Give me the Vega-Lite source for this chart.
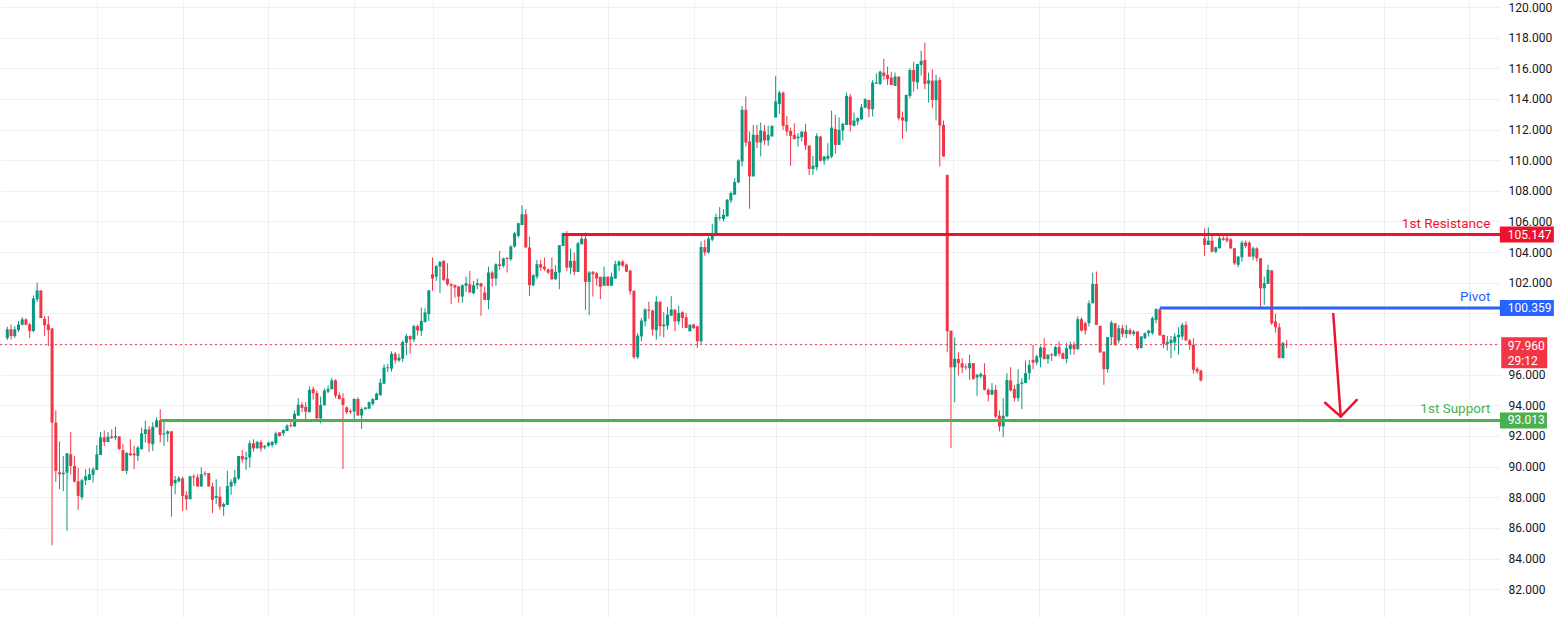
{
  "$schema": "https://vega.github.io/schema/vega-lite/v6.json",
  "width": 1500,
  "height": 618,
  "autosize": "none",
  "padding": {"left": 0, "top": 0, "right": 60, "bottom": 0},
  "background": "#ffffff",
  "config": {"view": {"stroke": null}, "font": "Roboto", "text": {"font": "Roboto"}},
  "datasets": {
    "candles": [
      {"t":1,"o":98.39,"h":99.13,"l":98.26,"c":98.96},{"t":2,"o":98.96,"h":99.28,"l":98.3,"c":98.52},{"t":3,"o":98.52,"h":99.17,"l":98.39,"c":98.96},{"t":4,"o":98.91,"h":99.5,"l":98.78,"c":99.28},{"t":5,"o":99.26,"h":99.76,"l":99.22,"c":99.61},{"t":6,"o":99.61,"h":99.67,"l":99.22,"c":99.26},{"t":7,"o":99.28,"h":99.39,"l":98.39,"c":98.85},{"t":8,"o":98.85,"h":101.17,"l":98.78,"c":100.98},{"t":9,"o":100.91,"h":102.0,"l":100.74,"c":101.5},{"t":10,"o":101.5,"h":101.5,"l":99.7,"c":99.7},
      {"t":11,"o":99.65,"h":99.83,"l":98.52,"c":99.22},{"t":12,"o":99.28,"h":99.83,"l":97.87,"c":98.91},{"t":13,"o":99.02,"h":99.02,"l":84.87,"c":92.87},{"t":14,"o":92.87,"h":93.67,"l":89.0,"c":89.72},{"t":15,"o":89.63,"h":91.65,"l":88.52,"c":89.5},{"t":16,"o":89.5,"h":90.7,"l":88.4,"c":89.6},{"t":17,"o":89.6,"h":90.87,"l":85.8,"c":90.87},{"t":18,"o":90.8,"h":92.26,"l":89.5,"c":90.04},{"t":19,"o":90.04,"h":90.7,"l":88.96,"c":89.02},{"t":20,"o":89.04,"h":89.91,"l":87.17,"c":88.09},
      {"t":21,"o":88.0,"h":89.2,"l":87.83,"c":89.11},{"t":22,"o":89.09,"h":89.83,"l":88.8,"c":89.37},{"t":23,"o":89.13,"h":89.91,"l":89.13,"c":89.5},{"t":24,"o":89.46,"h":89.96,"l":88.96,"c":89.83},{"t":25,"o":89.78,"h":91.4,"l":89.78,"c":90.8},{"t":26,"o":90.76,"h":92.26,"l":90.76,"c":91.91},{"t":27,"o":91.91,"h":92.35,"l":91.35,"c":91.61},{"t":28,"o":91.61,"h":92.26,"l":91.61,"c":91.96},{"t":29,"o":91.96,"h":92.43,"l":91.8,"c":91.87},{"t":30,"o":91.9,"h":92.6,"l":91.74,"c":92.0},
      {"t":31,"o":91.96,"h":92.0,"l":91.13,"c":91.13},{"t":32,"o":91.07,"h":91.46,"l":89.72,"c":89.72},{"t":33,"o":89.72,"h":90.91,"l":89.5,"c":90.91},{"t":34,"o":90.87,"h":91.78,"l":90.7,"c":90.74},{"t":35,"o":90.85,"h":91.35,"l":89.83,"c":90.74},{"t":36,"o":90.7,"h":91.35,"l":90.37,"c":91.24},{"t":37,"o":91.13,"h":92.54,"l":91.13,"c":92.17},{"t":38,"o":92.13,"h":93.0,"l":91.57,"c":92.43},{"t":39,"o":92.43,"h":92.65,"l":90.96,"c":91.52},{"t":40,"o":91.46,"h":92.9,"l":91.02,"c":92.6},
      {"t":41,"o":92.57,"h":93.2,"l":92.57,"c":93.02},{"t":42,"o":93.02,"h":93.74,"l":91.57,"c":92.07},{"t":43,"o":92.1,"h":93.02,"l":91.35,"c":92.17},{"t":44,"o":92.13,"h":92.37,"l":91.61,"c":92.3},{"t":45,"o":92.3,"h":92.3,"l":86.72,"c":88.74},{"t":46,"o":88.91,"h":89.39,"l":88.2,"c":89.13},{"t":47,"o":89.04,"h":89.39,"l":88.96,"c":89.26},{"t":48,"o":89.22,"h":89.35,"l":87.1,"c":88.09},{"t":49,"o":88.13,"h":88.39,"l":87.17,"c":87.87},{"t":50,"o":87.87,"h":89.37,"l":87.87,"c":89.37},
      {"t":51,"o":89.37,"h":89.5,"l":88.74,"c":89.3},{"t":52,"o":89.3,"h":89.5,"l":88.7,"c":88.7},{"t":53,"o":88.7,"h":89.96,"l":88.7,"c":89.5},{"t":54,"o":89.57,"h":89.7,"l":89.37,"c":89.5},{"t":55,"o":89.57,"h":89.57,"l":88.7,"c":88.7},{"t":56,"o":88.7,"h":88.96,"l":86.96,"c":87.83},{"t":57,"o":87.96,"h":89.17,"l":87.54,"c":88.09},{"t":58,"o":88.04,"h":88.69,"l":87.17,"c":87.38},{"t":59,"o":87.38,"h":87.65,"l":86.78,"c":87.56},{"t":60,"o":87.5,"h":89.73,"l":87.5,"c":88.73},
      {"t":61,"o":88.69,"h":89.17,"l":88.15,"c":89.0},{"t":62,"o":88.91,"h":89.78,"l":88.73,"c":89.3},{"t":63,"o":89.23,"h":90.69,"l":89.12,"c":90.69},{"t":64,"o":90.69,"h":91.08,"l":90.26,"c":90.47},{"t":65,"o":90.47,"h":90.97,"l":89.78,"c":90.6},{"t":66,"o":90.6,"h":91.69,"l":89.95,"c":91.52},{"t":67,"o":91.52,"h":91.78,"l":90.97,"c":91.19},{"t":68,"o":91.19,"h":91.69,"l":91.19,"c":91.6},{"t":69,"o":91.6,"h":91.73,"l":90.97,"c":91.19},{"t":70,"o":91.25,"h":91.41,"l":91.13,"c":91.35},
      {"t":71,"o":91.35,"h":91.63,"l":91.3,"c":91.56},{"t":72,"o":91.41,"h":91.63,"l":91.26,"c":91.63},{"t":73,"o":91.52,"h":92.28,"l":91.41,"c":92.17},{"t":74,"o":92.24,"h":92.24,"l":91.95,"c":92.0},{"t":75,"o":92.17,"h":92.43,"l":92.0,"c":92.39},{"t":76,"o":92.32,"h":92.76,"l":92.32,"c":92.67},{"t":77,"o":92.72,"h":92.9,"l":92.55,"c":92.66},{"t":78,"o":92.61,"h":93.65,"l":92.61,"c":93.44},{"t":79,"o":93.33,"h":94.48,"l":93.33,"c":94.04},{"t":80,"o":94.04,"h":94.2,"l":93.55,"c":93.83},
      {"t":81,"o":93.9,"h":94.2,"l":93.07,"c":93.59},{"t":82,"o":93.55,"h":95.22,"l":93.55,"c":95.0},{"t":83,"o":95.07,"h":95.22,"l":94.37,"c":94.78},{"t":84,"o":94.8,"h":94.96,"l":93.11,"c":93.15},{"t":85,"o":93.15,"h":94.57,"l":92.83,"c":94.02},{"t":86,"o":94.0,"h":95.11,"l":94.0,"c":94.96},{"t":87,"o":94.89,"h":95.3,"l":94.8,"c":95.07},{"t":88,"o":95.05,"h":95.78,"l":95.05,"c":95.63},{"t":89,"o":95.63,"h":95.7,"l":94.46,"c":94.63},{"t":90,"o":94.67,"h":94.85,"l":94.37,"c":94.41},
      {"t":91,"o":94.46,"h":94.8,"l":89.85,"c":94.02},{"t":92,"o":93.87,"h":93.92,"l":93.44,"c":93.55},{"t":93,"o":93.62,"h":93.76,"l":93.44,"c":93.55},{"t":94,"o":93.59,"h":94.46,"l":93.11,"c":94.41},{"t":95,"o":94.41,"h":94.52,"l":93.33,"c":93.33},{"t":96,"o":93.33,"h":93.87,"l":92.46,"c":93.76},{"t":97,"o":93.74,"h":93.89,"l":93.74,"c":93.85},{"t":98,"o":93.78,"h":94.26,"l":93.78,"c":94.2},{"t":99,"o":94.09,"h":94.46,"l":93.98,"c":94.41},{"t":100,"o":94.35,"h":94.83,"l":94.35,"c":94.76},
      {"t":101,"o":94.65,"h":95.74,"l":94.65,"c":95.48},{"t":102,"o":95.41,"h":96.67,"l":95.41,"c":96.46},{"t":103,"o":96.42,"h":96.7,"l":96.17,"c":96.48},{"t":104,"o":96.39,"h":97.52,"l":96.2,"c":97.37},{"t":105,"o":97.37,"h":97.48,"l":96.72,"c":96.93},{"t":106,"o":96.93,"h":97.37,"l":96.83,"c":97.11},{"t":107,"o":97.04,"h":98.24,"l":96.83,"c":98.13},{"t":108,"o":98.09,"h":98.67,"l":97.26,"c":98.52},{"t":109,"o":98.52,"h":98.57,"l":97.37,"c":98.3},{"t":110,"o":98.3,"h":99.26,"l":98.13,"c":99.17},
      {"t":111,"o":99.17,"h":99.26,"l":98.57,"c":98.89},{"t":112,"o":98.86,"h":100.38,"l":98.53,"c":99.51},{"t":113,"o":99.45,"h":100.34,"l":99.4,"c":100.06},{"t":114,"o":99.95,"h":101.51,"l":99.51,"c":101.51},{"t":115,"o":102.56,"h":103.64,"l":101.47,"c":102.27},{"t":116,"o":102.4,"h":103.14,"l":102.12,"c":103.1},{"t":117,"o":103.06,"h":103.43,"l":101.32,"c":103.36},{"t":118,"o":103.43,"h":103.49,"l":102.12,"c":102.19},{"t":119,"o":102.27,"h":103.27,"l":101.8,"c":101.9},{"t":120,"o":101.9,"h":102.0,"l":100.6,"c":101.8},
      {"t":121,"o":101.84,"h":101.9,"l":101.03,"c":101.69},{"t":122,"o":101.75,"h":101.8,"l":100.7,"c":101.1},{"t":123,"o":101.1,"h":101.9,"l":100.7,"c":101.84},{"t":124,"o":101.8,"h":102.4,"l":101.4,"c":101.97},{"t":125,"o":101.9,"h":102.77,"l":101.36,"c":101.36},{"t":126,"o":101.32,"h":102.12,"l":101.25,"c":101.84},{"t":127,"o":101.84,"h":102.27,"l":101.58,"c":101.97},{"t":128,"o":101.97,"h":102.0,"l":99.84,"c":101.75},{"t":129,"o":101.36,"h":101.75,"l":100.88,"c":100.88},{"t":130,"o":100.88,"h":103.06,"l":100.27,"c":102.67},
      {"t":131,"o":102.67,"h":102.77,"l":101.75,"c":102.27},{"t":132,"o":102.27,"h":103.27,"l":101.8,"c":103.21},{"t":133,"o":103.21,"h":104.08,"l":102.84,"c":103.1},{"t":134,"o":103.1,"h":103.64,"l":102.99,"c":103.58},{"t":135,"o":103.64,"h":103.64,"l":102.67,"c":103.56},{"t":136,"o":103.53,"h":104.45,"l":103.43,"c":104.36},{"t":137,"o":104.36,"h":105.32,"l":104.3,"c":105.23},{"t":138,"o":105.06,"h":105.93,"l":104.95,"c":105.88},{"t":139,"o":105.77,"h":107.06,"l":105.77,"c":106.47},{"t":140,"o":106.47,"h":106.8,"l":104.3,"c":104.3},
      {"t":141,"o":104.3,"h":105.01,"l":101.14,"c":101.84},{"t":142,"o":101.84,"h":102.56,"l":101.75,"c":102.49},{"t":143,"o":102.4,"h":103.49,"l":102.23,"c":103.21},{"t":144,"o":103.21,"h":103.49,"l":102.77,"c":102.99},{"t":145,"o":103.06,"h":103.64,"l":102.77,"c":102.88},{"t":146,"o":102.88,"h":102.93,"l":102.56,"c":102.67},{"t":147,"o":102.88,"h":103.64,"l":102.19,"c":102.23},{"t":148,"o":102.23,"h":103.14,"l":102.19,"c":102.71},{"t":149,"o":102.67,"h":104.45,"l":101.58,"c":104.45},{"t":150,"o":104.4,"h":105.27,"l":104.4,"c":105.23},
      {"t":151,"o":105.23,"h":105.38,"l":102.77,"c":102.99},{"t":152,"o":102.99,"h":104.23,"l":102.56,"c":103.43},{"t":153,"o":103.43,"h":103.97,"l":102.49,"c":102.71},{"t":154,"o":102.71,"h":104.67,"l":102.71,"c":104.58},{"t":155,"o":104.51,"h":105.06,"l":104.51,"c":104.88},{"t":156,"o":104.88,"h":105.27,"l":100.23,"c":102.06},{"t":157,"o":102.06,"h":102.77,"l":99.88,"c":102.67},{"t":158,"o":102.71,"h":102.77,"l":101.1,"c":102.56},{"t":159,"o":102.62,"h":102.71,"l":101.8,"c":102.27},{"t":160,"o":102.38,"h":102.4,"l":100.93,"c":101.73},
      {"t":161,"o":101.8,"h":103.06,"l":101.8,"c":102.4},{"t":162,"o":102.4,"h":102.4,"l":101.8,"c":101.8},{"t":163,"o":101.8,"h":102.67,"l":101.8,"c":102.4},{"t":164,"o":102.27,"h":103.43,"l":102.27,"c":103.21},{"t":165,"o":103.12,"h":103.46,"l":102.75,"c":103.38},{"t":166,"o":103.38,"h":103.5,"l":103.03,"c":103.12},{"t":167,"o":103.18,"h":103.25,"l":102.72,"c":102.72},{"t":168,"o":102.79,"h":102.85,"l":101.22,"c":101.44},{"t":169,"o":101.48,"h":101.48,"l":97.03,"c":97.14},{"t":170,"o":97.14,"h":98.72,"l":97.03,"c":98.55},
      {"t":171,"o":98.5,"h":99.7,"l":98.18,"c":99.53},{"t":172,"o":99.48,"h":100.35,"l":99.16,"c":100.25},{"t":173,"o":100.25,"h":100.77,"l":99.64,"c":100.18},{"t":174,"o":100.18,"h":100.25,"l":98.55,"c":98.94},{"t":175,"o":98.9,"h":101.12,"l":98.29,"c":100.77},{"t":176,"o":100.77,"h":100.77,"l":98.5,"c":99.16},{"t":177,"o":99.16,"h":100.07,"l":98.44,"c":99.27},{"t":178,"o":99.2,"h":100.42,"l":98.94,"c":99.92},{"t":179,"o":99.85,"h":101.12,"l":99.85,"c":100.25},{"t":180,"o":100.25,"h":100.25,"l":98.83,"c":99.48},
      {"t":181,"o":99.48,"h":100.5,"l":99.27,"c":100.03},{"t":182,"o":100.07,"h":100.14,"l":99.05,"c":99.7},{"t":183,"o":99.75,"h":100.03,"l":99.05,"c":99.05},{"t":184,"o":98.83,"h":99.27,"l":98.83,"c":99.27},{"t":185,"o":99.27,"h":99.33,"l":98.98,"c":99.05},{"t":186,"o":99.16,"h":99.16,"l":97.75,"c":98.18},{"t":187,"o":98.18,"h":104.7,"l":97.96,"c":104.33},{"t":188,"o":104.33,"h":104.81,"l":103.77,"c":103.98},{"t":189,"o":103.98,"h":105.03,"l":103.9,"c":104.88},{"t":190,"o":104.81,"h":105.85,"l":104.7,"c":105.2},
      {"t":191,"o":105.14,"h":106.51,"l":105.03,"c":106.29},{"t":192,"o":106.22,"h":106.94,"l":106.07,"c":106.29},{"t":193,"o":106.16,"h":106.81,"l":106.0,"c":106.44},{"t":194,"o":106.33,"h":107.46,"l":106.33,"c":107.42},{"t":195,"o":107.37,"h":107.96,"l":107.2,"c":107.85},{"t":196,"o":107.75,"h":108.83,"l":107.75,"c":108.57},{"t":197,"o":108.55,"h":110.07,"l":108.5,"c":109.98},{"t":198,"o":109.92,"h":113.55,"l":109.59,"c":113.29},{"t":199,"o":113.29,"h":114.16,"l":110.9,"c":111.16},{"t":200,"o":111.22,"h":111.88,"l":106.83,"c":108.94},
      {"t":201,"o":108.94,"h":112.31,"l":108.94,"c":111.66},{"t":202,"o":111.66,"h":112.31,"l":110.79,"c":111.16},{"t":203,"o":111.16,"h":112.46,"l":110.25,"c":111.94},{"t":204,"o":111.88,"h":112.31,"l":111.0,"c":111.29},{"t":205,"o":111.29,"h":112.25,"l":110.94,"c":111.66},{"t":206,"o":111.55,"h":112.25,"l":111.55,"c":112.25},{"t":207,"o":112.79,"h":115.5,"l":112.79,"c":113.83},{"t":208,"o":113.67,"h":114.54,"l":113.02,"c":114.41},{"t":209,"o":114.41,"h":114.48,"l":111.98,"c":112.24},{"t":210,"o":112.3,"h":112.89,"l":111.59,"c":111.87},
      {"t":211,"o":111.91,"h":112.13,"l":109.63,"c":111.59},{"t":212,"o":111.65,"h":112.41,"l":111.33,"c":111.39},{"t":213,"o":111.43,"h":111.76,"l":110.89,"c":111.54},{"t":214,"o":111.5,"h":111.87,"l":111.22,"c":111.87},{"t":215,"o":111.87,"h":112.37,"l":110.67,"c":110.96},{"t":216,"o":110.96,"h":110.96,"l":109.04,"c":109.43},{"t":217,"o":109.43,"h":110.28,"l":109.04,"c":109.63},{"t":218,"o":109.54,"h":111.76,"l":109.33,"c":111.59},{"t":219,"o":111.54,"h":111.59,"l":109.91,"c":109.96},{"t":220,"o":109.96,"h":110.28,"l":109.7,"c":110.24},
      {"t":221,"o":110.09,"h":111.11,"l":109.98,"c":110.28},{"t":222,"o":110.24,"h":113.24,"l":110.13,"c":112.13},{"t":223,"o":112.04,"h":112.96,"l":110.41,"c":111.0},{"t":224,"o":111.0,"h":112.8,"l":111.0,"c":111.98},{"t":225,"o":111.93,"h":112.46,"l":111.28,"c":112.37},{"t":226,"o":112.3,"h":114.41,"l":112.3,"c":114.2},{"t":227,"o":114.15,"h":114.33,"l":111.87,"c":112.3},{"t":228,"o":112.24,"h":113.11,"l":112.2,"c":112.59},{"t":229,"o":112.52,"h":112.8,"l":112.3,"c":112.74},{"t":230,"o":112.67,"h":113.67,"l":112.63,"c":113.46},
      {"t":231,"o":113.43,"h":114.04,"l":113.39,"c":113.98},{"t":232,"o":113.93,"h":113.93,"l":112.8,"c":113.33},{"t":233,"o":113.33,"h":115.24,"l":112.85,"c":115.07},{"t":234,"o":115.0,"h":115.67,"l":114.98,"c":115.07},{"t":235,"o":114.98,"h":115.85,"l":114.91,"c":115.78},{"t":236,"o":115.72,"h":116.61,"l":115.24,"c":115.5},{"t":237,"o":115.57,"h":116.11,"l":114.91,"c":115.3},{"t":238,"o":115.39,"h":115.78,"l":114.91,"c":114.91},{"t":239,"o":114.85,"h":115.72,"l":114.85,"c":115.46},{"t":240,"o":115.46,"h":115.46,"l":112.59,"c":112.74},
      {"t":241,"o":112.8,"h":113.17,"l":111.39,"c":112.59},{"t":242,"o":112.52,"h":114.26,"l":111.87,"c":114.26},{"t":243,"o":114.2,"h":116.0,"l":114.04,"c":115.89},{"t":244,"o":115.89,"h":116.43,"l":114.48,"c":115.13},{"t":245,"o":115.07,"h":116.28,"l":114.63,"c":116.28},{"t":246,"o":116.22,"h":117.15,"l":115.52,"c":116.48},{"t":247,"o":116.54,"h":117.67,"l":114.63,"c":114.98},{"t":248,"o":115.0,"h":115.72,"l":113.76,"c":115.2},{"t":249,"o":115.2,"h":115.93,"l":113.39,"c":113.93},{"t":250,"o":113.93,"h":115.57,"l":112.59,"c":115.2},
      {"t":251,"o":115.24,"h":115.41,"l":109.59,"c":112.26},{"t":252,"o":112.3,"h":112.59,"l":110.24,"c":110.24},{"t":253,"o":109.04,"h":109.04,"l":97.46,"c":98.83},{"t":254,"o":98.87,"h":98.87,"l":91.22,"c":96.48},{"t":255,"o":96.48,"h":98.43,"l":94.2,"c":97.04},{"t":256,"o":97.03,"h":97.47,"l":95.95,"c":96.75},{"t":257,"o":96.75,"h":97.08,"l":96.1,"c":96.47},{"t":258,"o":96.53,"h":96.71,"l":96.32,"c":96.47},{"t":259,"o":96.42,"h":97.3,"l":95.66,"c":96.75},{"t":260,"o":96.75,"h":96.75,"l":95.66,"c":95.73},
      {"t":261,"o":95.82,"h":96.05,"l":94.62,"c":95.99},{"t":262,"o":95.88,"h":96.14,"l":95.77,"c":96.05},{"t":263,"o":95.99,"h":96.75,"l":94.97,"c":95.01},{"t":264,"o":95.01,"h":95.12,"l":94.25,"c":94.69},{"t":265,"o":94.69,"h":95.45,"l":94.69,"c":95.01},{"t":266,"o":95.01,"h":95.34,"l":93.16,"c":93.27},{"t":267,"o":93.32,"h":93.66,"l":92.29,"c":92.62},{"t":268,"o":92.62,"h":94.47,"l":91.92,"c":93.32},{"t":269,"o":93.27,"h":96.1,"l":93.27,"c":95.66},{"t":270,"o":95.62,"h":96.49,"l":94.9,"c":94.97},
      {"t":271,"o":95.06,"h":95.34,"l":94.25,"c":94.47},{"t":272,"o":94.47,"h":96.36,"l":94.25,"c":95.4},{"t":273,"o":95.4,"h":95.77,"l":93.75,"c":95.49},{"t":274,"o":95.45,"h":96.93,"l":95.45,"c":96.1},{"t":275,"o":96.1,"h":96.97,"l":95.66,"c":96.64},{"t":276,"o":96.97,"h":97.95,"l":96.36,"c":96.79},{"t":277,"o":96.79,"h":97.3,"l":96.64,"c":97.19},{"t":278,"o":97.12,"h":97.88,"l":96.49,"c":97.77},{"t":279,"o":97.77,"h":98.38,"l":97.01,"c":97.01},{"t":280,"o":97.01,"h":97.36,"l":96.71,"c":97.3},
      {"t":281,"o":97.32,"h":97.42,"l":96.9,"c":97.25},{"t":282,"o":97.23,"h":97.88,"l":97.19,"c":97.8},{"t":283,"o":97.8,"h":98.16,"l":97.19,"c":97.36},{"t":284,"o":97.4,"h":97.45,"l":97.03,"c":97.03},{"t":285,"o":97.03,"h":98.06,"l":96.75,"c":97.73},{"t":286,"o":97.67,"h":98.16,"l":97.3,"c":97.95},{"t":287,"o":97.95,"h":98.16,"l":97.3,"c":97.67},{"t":288,"o":97.67,"h":99.8,"l":97.62,"c":99.62},{"t":289,"o":99.62,"h":99.75,"l":98.81,"c":98.88},{"t":290,"o":99.36,"h":99.47,"l":98.6,"c":98.88},
      {"t":291,"o":99.36,"h":100.84,"l":99.14,"c":100.66},{"t":292,"o":100.66,"h":102.66,"l":100.66,"c":101.92},{"t":293,"o":101.92,"h":102.73,"l":99.25,"c":99.25},{"t":294,"o":99.19,"h":99.19,"l":97.45,"c":97.45},{"t":295,"o":97.51,"h":97.51,"l":95.34,"c":96.36},{"t":296,"o":96.36,"h":98.45,"l":96.14,"c":98.45},{"t":297,"o":98.45,"h":99.53,"l":97.95,"c":99.4},{"t":298,"o":99.36,"h":99.36,"l":97.88,"c":97.95},{"t":299,"o":98.23,"h":99.25,"l":98.06,"c":99.03},{"t":300,"o":99.03,"h":99.25,"l":98.45,"c":98.66},
      {"t":301,"o":98.66,"h":99.25,"l":98.38,"c":98.92},{"t":302,"o":98.92,"h":99.03,"l":98.6,"c":98.66},{"t":303,"o":98.66,"h":98.92,"l":98.53,"c":98.82},{"t":304,"o":98.82,"h":98.82,"l":97.62,"c":97.73},{"t":305,"o":97.73,"h":98.53,"l":97.73,"c":98.49},{"t":306,"o":98.38,"h":98.75,"l":98.32,"c":98.71},{"t":307,"o":98.71,"h":98.93,"l":98.49,"c":98.88},{"t":308,"o":98.71,"h":99.8,"l":98.6,"c":99.69},{"t":309,"o":99.58,"h":100.34,"l":99.36,"c":100.27},{"t":310,"o":100.27,"h":100.34,"l":98.56,"c":98.56},
      {"t":311,"o":98.6,"h":98.6,"l":97.73,"c":98.01},{"t":312,"o":98.01,"h":98.53,"l":97.58,"c":98.14},{"t":313,"o":98.06,"h":98.53,"l":97.08,"c":98.27},{"t":314,"o":98.1,"h":98.71,"l":97.58,"c":98.49},{"t":315,"o":98.45,"h":99.1,"l":97.3,"c":98.6},{"t":316,"o":98.49,"h":99.4,"l":98.27,"c":99.25},{"t":317,"o":99.25,"h":99.47,"l":98.23,"c":98.23},{"t":318,"o":98.23,"h":98.32,"l":97.62,"c":97.95},{"t":319,"o":97.95,"h":98.38,"l":96.06,"c":96.32},{"t":320,"o":96.38,"h":96.49,"l":96.06,"c":96.21},
      {"t":321,"o":96.27,"h":96.32,"l":95.56,"c":95.62},{"t":322,"o":104.9,"h":105.56,"l":103.75,"c":104.47},{"t":323,"o":104.47,"h":105.62,"l":104.47,"c":104.75},{"t":324,"o":104.75,"h":105.23,"l":103.99,"c":104.03},{"t":325,"o":104.03,"h":104.36,"l":103.93,"c":104.32},{"t":326,"o":104.25,"h":105.06,"l":104.25,"c":104.9},{"t":327,"o":104.9,"h":105.12,"l":104.75,"c":104.8},{"t":328,"o":104.9,"h":105.12,"l":104.62,"c":104.75},{"t":329,"o":104.84,"h":104.9,"l":104.19,"c":104.25},{"t":330,"o":104.25,"h":104.25,"l":103.17,"c":103.27},
      {"t":331,"o":103.17,"h":103.75,"l":103.01,"c":103.71},{"t":332,"o":103.67,"h":104.75,"l":103.38,"c":104.62},{"t":333,"o":104.62,"h":104.75,"l":104.25,"c":104.4},{"t":334,"o":104.62,"h":104.69,"l":103.67,"c":103.71},{"t":335,"o":103.71,"h":104.36,"l":103.49,"c":104.25},{"t":336,"o":104.25,"h":104.32,"l":103.38,"c":103.6},{"t":337,"o":103.6,"h":103.6,"l":100.34,"c":101.64},{"t":338,"o":101.64,"h":102.4,"l":100.56,"c":101.97},{"t":339,"o":101.93,"h":103.17,"l":101.93,"c":102.84},{"t":340,"o":102.8,"h":102.84,"l":99.25,"c":99.36},
      {"t":341,"o":99.47,"h":99.97,"l":98.75,"c":99.1},{"t":342,"o":99.1,"h":99.36,"l":97.08,"c":97.08},{"t":343,"o":97.08,"h":98.16,"l":97.08,"c":98.06},{"t":344,"o":98.0,"h":98.27,"l":97.73,"c":97.96}
    ],
    "levels": [
      {"name": "1st Resistance", "value": 105.147, "start": 150},
      {"name": "Pivot", "value": 100.359, "start": 310},
      {"name": "1st Support", "value": 93.013, "start": 42}
    ],
    "price": [{"value": 97.96, "countdown": "29:12"}],
    "arrow": [
      {"seg": "shaft", "k": 0, "t": 356.5, "v": 99.96},
      {"seg": "shaft", "k": 1, "t": 358.5, "v": 93.26},
      {"seg": "head", "k": 0, "t": 354.3, "v": 94.17},
      {"seg": "head", "k": 1, "t": 358.5, "v": 93.26},
      {"seg": "head", "k": 2, "t": 362.8, "v": 94.35}
    ]
  },
  "layer": [
    {
      "data": {"name": "candles"},
      "mark": {"type": "rule", "strokeWidth": 1},
      "encoding": {
        "x": {"field": "t", "type": "quantitative", "title": null,
              "scale": {"domain": [-0.96, 401.2], "nice": false, "zero": false, "padding": 0},
              "axis": {"values": [25, 48, 71, 94, 115, 139, 162, 185, 207, 231, 254.5, 277.5, 300.5, 322.5, 347, 370, 393],
                       "tickCount": 40, "labels": false, "ticks": false, "domain": false, "title": null,
                       "grid": true, "gridColor": "#f0f0f3", "gridWidth": 1}},
        "y": {"field": "l", "type": "quantitative", "title": null,
              "scale": {"domain": [80.117, 120.457], "nice": false, "zero": false, "padding": 0},
              "axis": {"orient": "right", "values": [82, 84, 86, 88, 90, 92, 94, 96, 98, 100, 102, 104, 106, 108, 110, 112, 114, 116, 118, 120],
                       "tickCount": 40, "format": ".3f", "labelExpr": "datum.value == 98 || datum.value == 100 ? '' : datum.label",
                       "labelFont": "Roboto", "labelFontSize": 12, "labelColor": "#131722", "labelOverlap": false,
                       "labelPadding": 8, "ticks": false, "domain": false, "title": null,
                       "grid": true, "gridColor": "#f0f0f3", "gridWidth": 1, "labelBound": false}},
        "y2": {"field": "h"},
        "color": {"condition": {"test": "datum.c >= datum.o", "value": "#089981"}, "value": "#f23645"}
      }
    },
    {
      "data": {"name": "candles"},
      "mark": {"type": "bar", "size": 3},
      "encoding": {
        "x": {"field": "t", "type": "quantitative", "title": null},
        "y": {"field": "o", "type": "quantitative", "title": null},
        "y2": {"field": "c"},
        "color": {"condition": {"test": "datum.c >= datum.o", "value": "#089981"}, "value": "#f23645"}
      }
    },
    {
      "data": {"name": "price"},
      "mark": {"type": "rule", "strokeWidth": 1, "strokeDash": [2, 3], "color": "#f23645"},
      "encoding": {
        "x": {"datum": -0.96, "type": "quantitative", "title": null},
        "x2": {"datum": 401.2},
        "y": {"field": "value", "type": "quantitative", "title": null}
      }
    },
    {
      "data": {"name": "levels"},
      "mark": {"type": "rule", "strokeWidth": 3},
      "encoding": {
        "x": {"field": "start", "type": "quantitative", "title": null},
        "x2": {"datum": 401.2},
        "y": {"field": "value", "type": "quantitative", "title": null},
        "color": {"field": "name", "type": "nominal", "legend": null,
                  "scale": {"domain": ["1st Resistance", "Pivot", "1st Support"], "range": ["#f0122d", "#2962ff", "#4caf50"]}}
      }
    },
    {
      "data": {"name": "levels"},
      "mark": {"type": "text", "align": "right", "baseline": "middle", "dy": -11, "fontSize": 13.5, "font": "Roboto"},
      "encoding": {
        "x": {"datum": 398.6, "type": "quantitative", "title": null},
        "y": {"field": "value", "type": "quantitative", "title": null},
        "text": {"field": "name"},
        "color": {"field": "name", "type": "nominal", "legend": null}
      }
    },
    {
      "data": {"name": "arrow"},
      "mark": {"type": "line", "strokeWidth": 2.5, "color": "#f0122d", "strokeCap": "round", "strokeJoin": "round"},
      "encoding": {
        "x": {"field": "t", "type": "quantitative", "title": null},
        "y": {"field": "v", "type": "quantitative", "title": null},
        "detail": {"field": "seg"},
        "order": {"field": "k"}
      }
    },
    {
      "data": {"name": "levels"},
      "transform": [{"filter": "datum.name != '1st Support'"}],
      "mark": {"type": "point", "filled": true, "opacity": 1, "shape": "M-1,-0.296L1,-0.296L1,0.296L-1,0.296Z", "size": 2916},
      "encoding": {
        "x": {"datum": 408.4, "type": "quantitative", "title": null},
        "y": {"field": "value", "type": "quantitative", "title": null},
        "color": {"field": "name", "type": "nominal", "legend": null}
      }
    },
    {
      "data": {"name": "levels"},
      "transform": [{"filter": "datum.name == '1st Support'"}],
      "mark": {"type": "point", "filled": true, "opacity": 1, "shape": "M-1,-0.34L1,-0.34L1,0.34L-1,0.34Z", "size": 2209},
      "encoding": {
        "x": {"datum": 407.5, "type": "quantitative", "title": null},
        "y": {"field": "value", "type": "quantitative", "title": null},
        "color": {"field": "name", "type": "nominal", "legend": null}
      }
    },
    {
      "data": {"name": "price"},
      "mark": {"type": "point", "filled": true, "opacity": 1, "color": "#f23645", "shape": "M-1,-0.674L1,-0.674L1,0.674L-1,0.674Z", "size": 2116, "yOffset": 8},
      "encoding": {
        "x": {"datum": 407.7, "type": "quantitative", "title": null},
        "y": {"field": "value", "type": "quantitative", "title": null}
      }
    },
    {
      "data": {"name": "levels"},
      "mark": {"type": "text", "align": "left", "baseline": "middle", "fontSize": 12, "font": "Roboto", "color": "#ffffff"},
      "encoding": {
        "x": {"datum": 403.3, "type": "quantitative", "title": null},
        "y": {"field": "value", "type": "quantitative", "title": null},
        "text": {"field": "value", "type": "quantitative", "format": ".3f"}
      }
    },
    {
      "data": {"name": "price"},
      "mark": {"type": "text", "align": "left", "baseline": "middle", "fontSize": 12, "font": "Roboto", "color": "#ffffff", "dy": 1},
      "encoding": {
        "x": {"datum": 403.3, "type": "quantitative", "title": null},
        "y": {"field": "value", "type": "quantitative", "title": null},
        "text": {"field": "value", "type": "quantitative", "format": ".3f"}
      }
    },
    {
      "data": {"name": "price"},
      "mark": {"type": "text", "align": "left", "baseline": "middle", "fontSize": 12, "font": "Roboto", "color": "#ffffff", "dy": 16},
      "encoding": {
        "x": {"datum": 403.3, "type": "quantitative", "title": null},
        "y": {"field": "value", "type": "quantitative", "title": null},
        "text": {"field": "countdown"}
      }
    }
  ]
}
